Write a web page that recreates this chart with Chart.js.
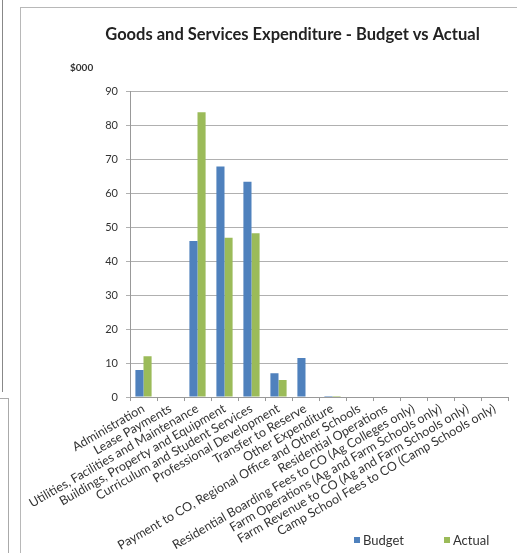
<!DOCTYPE html>
<html>
<head>
<meta charset="utf-8">
<script src="https://cdn.jsdelivr.net/npm/chart.js@4/dist/chart.umd.min.js"></script>
<style>
  body { margin: 0; background: #fff; width: 517px; height: 553px; overflow: hidden; position: relative; font-family: Lato, "Open Sans", sans-serif; }
  #frame { position: absolute; left: 20px; top: 7px; width: 500px; height: 550px; border: 1px solid #b8b8b8; box-sizing: border-box; }
  #edge { position: absolute; left: 2px; top: 0; width: 0; height: 392px; border-left: 1px solid #888; }
  #edge2 { position: absolute; left: 0; top: 398px; width: 8px; height: 160px; border-right: 1px solid #aaa; border-top: 1px solid #aaa; }
  #unit { position: absolute; left: 70px; top: 61px; font-size: 10px; font-weight: bold; color: #333; }
  #wrap { position: absolute; left: 21px; top: 8px; width: 496px; height: 545px; }
  #legend { position: absolute; left: 354px; top: 532px; font-size: 13px; color: #333; white-space: nowrap; }
  #legend span.box { display: inline-block; width: 6px; height: 6px; margin-right: 3px; vertical-align: 2px; }
  #legend span.item { margin-right: 40px; }
</style>
</head>
<body>
<div id="edge"></div>
<div id="edge2"></div>
<div id="frame"></div>
<div id="wrap"><canvas id="chart"></canvas></div>
<div id="unit">$000</div>
<div id="legend"></div>
<script>
const categories = [
  'Administration',
  'Lease Payments',
  'Utilities, Facilities and Maintenance',
  'Buildings, Property and Equipment',
  'Curriculum and Student Services',
  'Professional Development',
  'Transfer to Reserve',
  'Other Expenditure',
  'Payment to CO, Regional Office and Other Schools',
  'Residential Operations',
  'Residential Boarding Fees to CO (Ag Colleges only)',
  'Farm Operations (Ag and Farm Schools only)',
  'Farm Revenue to CO (Ag and Farm Schools only)',
  'Camp School Fees to CO (Camp Schools only)'
];
const budget = [8, 0, 46, 68, 63.5, 7, 11.5, 0.3, 0, 0, 0, 0, 0, 0];
const actual = [12, 0, 84, 47, 48.3, 5, 0, 0.3, 0, 0, 0, 0, 0, 0];

const ctx = document.getElementById('chart');
const chart = new Chart(ctx, {
  type: 'bar',
  data: {
    labels: categories,
    datasets: [
      { label: 'Budget', data: budget, backgroundColor: '#4f81bd' },
      { label: 'Actual', data: actual, backgroundColor: '#9bbb59' }
    ]
  },
  options: {
    responsive: true,
    maintainAspectRatio: false,
    animation: false,
    layout: { padding: { left: 56, right: 9, top: 10, bottom: 0 } },
    datasets: { bar: { categoryPercentage: 0.6, barPercentage: 1 } },
    plugins: {
      title: {
        display: true,
        text: 'Goods and Services Expenditure - Budget vs Actual',
        color: '#222',
        font: { family: 'Lato', size: 16.5, weight: 'bold' },
        padding: { top: 7, bottom: 47 }
      },
      legend: { display: false },
      tooltip: { enabled: false }
    },
    scales: {
      x: {
        grid: { display: true, drawOnChartArea: false, color: '#999', tickLength: 4, offset: true },
        border: { color: '#999' },
        ticks: {
          color: '#333',
          font: { family: 'Lato', size: 12.5 },
          minRotation: 30,
          maxRotation: 30,
          autoSkip: false,
          padding: 0
        }
      },
      y: {
        min: 0,
        max: 90,
        afterFit: (scale) => { scale.width = 53; },
        ticks: { stepSize: 10, color: '#333', font: { family: 'Lato', size: 11 }, padding: 8 },
        grid: { color: '#b0b0b0', tickLength: 4 },
        border: { color: '#999' }
      }
    }
  }
});

// legend as text, placed at the bottom right like the original
document.getElementById('legend').innerHTML = chart.data.datasets.map(ds =>
  `<span class="item"><span class="box" style="background:${ds.backgroundColor}"></span>${ds.label}</span>`
).join('');
</script>
</body>
</html>
